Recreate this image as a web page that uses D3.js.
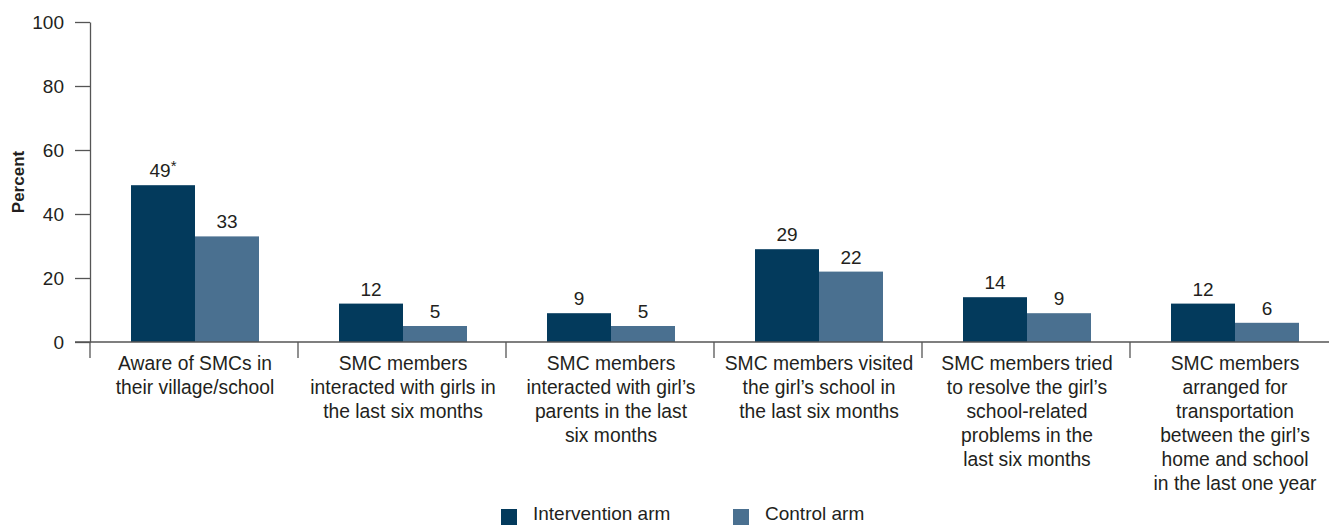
<!DOCTYPE html>
<html lang="en">
<head>
    <meta charset="UTF-8">
    <script src="https://d3js.org/d3.v7.min.js"></script>
    <style>
        body {
            margin: 0;
            background: #fff;
            font-family: "Liberation Sans", Arial, sans-serif;
        }
        .axis text {
            font-size: 19px;
            fill: #231f20;
        }
        .axis path, .axis line {
            stroke: #555;
            stroke-width: 1.3px;
        }
        .label {
            font-size: 19px;
            fill: #231f20;
        }
        .cat {
            font-size: 19.3px;
            fill: #231f20;
        }
    </style>
</head>
<body>
    <svg id="chart"></svg>

    <script>
        // Du lieu
        const categories = [
            ["Aware of SMCs in", "their village/school"],
            ["SMC members", "interacted with girls in", "the last six months"],
            ["SMC members", "interacted with girl\u2019s", "parents in the last", "six months"],
            ["SMC members visited", "the girl\u2019s school in", "the last six months"],
            ["SMC members tried", "to resolve the girl\u2019s", "school-related", "problems in the", "last six months"],
            ["SMC members", "arranged for", "transportation", "between the girl\u2019s", "home and school", "in the last one year"]
        ];
        const intervention = [49, 12, 9, 29, 14, 12];
        const control = [33, 5, 5, 22, 9, 6];
        const interventionLabels = ["49*", "12", "9", "29", "14", "12"];
        const controlLabels = ["33", "5", "5", "22", "9", "6"];
        const seriesNames = ["Intervention arm", "Control arm"];
        const yTicks = [0, 20, 40, 60, 80, 100];

        const width = 1329;
        const height = 525;
        const margin = { top: 22, right: -9, bottom: 183, left: 90 };

        const svg = d3.select("#chart")
            .attr("width", width)
            .attr("height", height);

        const x = d3.scaleBand()
            .domain(d3.range(categories.length))
            .range([margin.left, width - margin.right]);

        const y = d3.scaleLinear()
            .domain([0, 100])
            .range([height - margin.bottom, margin.top]);

        const barW = 64;
        const colors = ["#033a5c", "#4a7090"];

        // Cot
        const series = [
            { values: intervention, labels: interventionLabels, off: -barW + 1 },
            { values: control, labels: controlLabels, off: 1 }
        ];

        series.forEach((s, si) => {
            svg.selectAll(".bar" + si)
                .data(s.values)
                .enter()
                .append("rect")
                .attr("x", (d, i) => x(i) + x.bandwidth() / 2 + s.off)
                .attr("y", d => y(d))
                .attr("width", barW)
                .attr("height", d => y(0) - y(d))
                .attr("fill", colors[si]);

            svg.selectAll(".label" + si)
                .data(s.values)
                .enter()
                .append("text")
                .attr("class", "label")
                .attr("x", (d, i) => x(i) + x.bandwidth() / 2 + s.off + barW / 2)
                .attr("y", d => y(d) - 8)
                .attr("text-anchor", "middle")
                .each(function(d, i) {
                    const t = d3.select(this);
                    const lab = s.labels[i];
                    if (lab.endsWith("*")) {
                        t.append("tspan").text(lab.slice(0, -1));
                        t.append("tspan").attr("dy", -6).attr("font-size", "15px").text("*");
                    } else {
                        t.text(lab);
                    }
                });
        });

        // Truc Y
        svg.append("g")
            .attr("class", "axis")
            .attr("transform", `translate(${margin.left},0)`)
            .call(d3.axisLeft(y).tickValues(yTicks).tickSize(15).tickPadding(11).tickSizeOuter(0))
            .call(g => g.selectAll("text").attr("dy", "0.35em"));

        // Truc X
        const xAxis = svg.append("g")
            .attr("class", "axis")
            .attr("transform", `translate(0,${y(0)})`);
        xAxis.append("line")
            .attr("x1", margin.left - 15).attr("x2", width)
            .attr("y1", 0).attr("y2", 0);
        xAxis.selectAll(".sep")
            .data(d3.range(categories.length + 1))
            .enter()
            .append("line")
            .attr("x1", i => i < categories.length ? x(i) : x(i - 1) + x.bandwidth())
            .attr("x2", i => i < categories.length ? x(i) : x(i - 1) + x.bandwidth())
            .attr("y1", 0).attr("y2", 16);

        // Nhan danh muc
        svg.selectAll(".cat")
            .data(categories)
            .enter()
            .append("text")
            .attr("class", "cat")
            .attr("text-anchor", "middle")
            .attr("y", y(0) + 28)
            .each(function(lines, i) {
                const t = d3.select(this);
                lines.forEach((ln, k) => {
                    t.append("tspan")
                        .attr("x", x(i) + x.bandwidth() / 2 + 1)
                        .attr("dy", k === 0 ? 0 : 24)
                        .text(ln);
                });
            });

        // Nhan truc Y
        svg.append("text")
            .attr("transform", `translate(24,182) rotate(-90)`)
            .attr("text-anchor", "middle")
            .attr("font-size", "17px")
            .attr("font-weight", "bold")
            .attr("fill", "#231f20")
            .text("Percent");

        // Chu giai
        const legendX = [501, 733];
        seriesNames.forEach((name, i) => {
            svg.append("rect")
                .attr("x", legendX[i]).attr("y", 509)
                .attr("width", 16).attr("height", 16)
                .attr("fill", colors[i]);
            svg.append("text")
                .attr("x", legendX[i] + 32).attr("y", 520)
                .attr("font-size", "19px")
                .attr("fill", "#231f20")
                .text(name);
        });
    </script>
</body>
</html>
